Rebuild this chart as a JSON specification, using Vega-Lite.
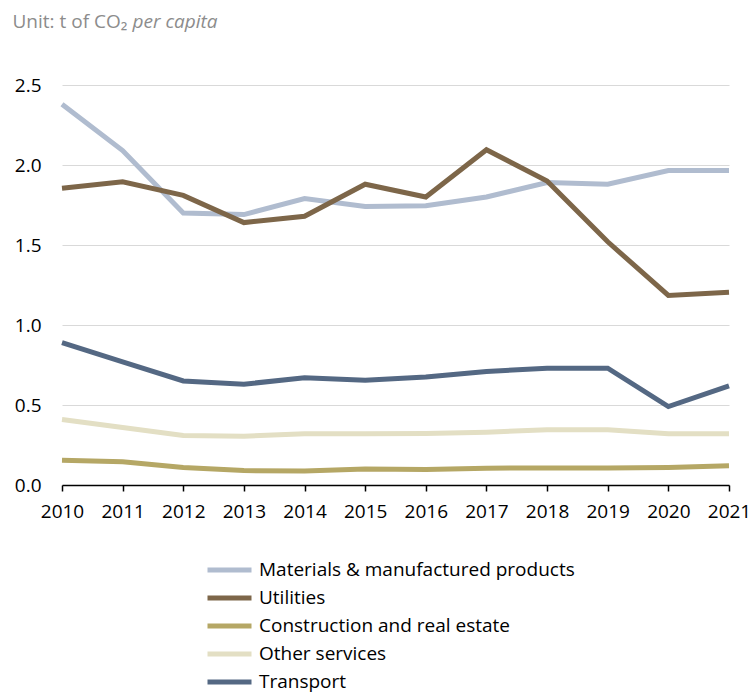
{
  "$schema": "https://vega.github.io/schema/vega-lite/v6.json",
  "width": 667,
  "height": 400,
  "autosize": {"type": "none"},
  "padding": {"left": 62, "top": 85, "right": 24, "bottom": 213},
  "background": "white",
  "config": {
    "view": {"stroke": null},
    "font": "Open Sans"
  },
  "data": {
    "values": [
      {"year": "2010", "sector": "Materials & manufactured products", "value": 2.38},
      {"year": "2011", "sector": "Materials & manufactured products", "value": 2.09},
      {"year": "2012", "sector": "Materials & manufactured products", "value": 1.70},
      {"year": "2013", "sector": "Materials & manufactured products", "value": 1.69},
      {"year": "2014", "sector": "Materials & manufactured products", "value": 1.79},
      {"year": "2015", "sector": "Materials & manufactured products", "value": 1.74},
      {"year": "2016", "sector": "Materials & manufactured products", "value": 1.745},
      {"year": "2017", "sector": "Materials & manufactured products", "value": 1.80},
      {"year": "2018", "sector": "Materials & manufactured products", "value": 1.89},
      {"year": "2019", "sector": "Materials & manufactured products", "value": 1.88},
      {"year": "2020", "sector": "Materials & manufactured products", "value": 1.965},
      {"year": "2021", "sector": "Materials & manufactured products", "value": 1.965},
      {"year": "2010", "sector": "Utilities", "value": 1.855},
      {"year": "2011", "sector": "Utilities", "value": 1.895},
      {"year": "2012", "sector": "Utilities", "value": 1.81},
      {"year": "2013", "sector": "Utilities", "value": 1.64},
      {"year": "2014", "sector": "Utilities", "value": 1.68},
      {"year": "2015", "sector": "Utilities", "value": 1.88},
      {"year": "2016", "sector": "Utilities", "value": 1.80},
      {"year": "2017", "sector": "Utilities", "value": 2.095},
      {"year": "2018", "sector": "Utilities", "value": 1.90},
      {"year": "2019", "sector": "Utilities", "value": 1.52},
      {"year": "2020", "sector": "Utilities", "value": 1.185},
      {"year": "2021", "sector": "Utilities", "value": 1.205},
      {"year": "2010", "sector": "Construction and real estate", "value": 0.155},
      {"year": "2011", "sector": "Construction and real estate", "value": 0.145},
      {"year": "2012", "sector": "Construction and real estate", "value": 0.11},
      {"year": "2013", "sector": "Construction and real estate", "value": 0.09},
      {"year": "2014", "sector": "Construction and real estate", "value": 0.087},
      {"year": "2015", "sector": "Construction and real estate", "value": 0.10},
      {"year": "2016", "sector": "Construction and real estate", "value": 0.097},
      {"year": "2017", "sector": "Construction and real estate", "value": 0.105},
      {"year": "2018", "sector": "Construction and real estate", "value": 0.107},
      {"year": "2019", "sector": "Construction and real estate", "value": 0.107},
      {"year": "2020", "sector": "Construction and real estate", "value": 0.11},
      {"year": "2021", "sector": "Construction and real estate", "value": 0.12},
      {"year": "2010", "sector": "Other services", "value": 0.41},
      {"year": "2011", "sector": "Other services", "value": 0.36},
      {"year": "2012", "sector": "Other services", "value": 0.31},
      {"year": "2013", "sector": "Other services", "value": 0.305},
      {"year": "2014", "sector": "Other services", "value": 0.32},
      {"year": "2015", "sector": "Other services", "value": 0.32},
      {"year": "2016", "sector": "Other services", "value": 0.322},
      {"year": "2017", "sector": "Other services", "value": 0.33},
      {"year": "2018", "sector": "Other services", "value": 0.345},
      {"year": "2019", "sector": "Other services", "value": 0.345},
      {"year": "2020", "sector": "Other services", "value": 0.32},
      {"year": "2021", "sector": "Other services", "value": 0.32},
      {"year": "2010", "sector": "Transport", "value": 0.89},
      {"year": "2011", "sector": "Transport", "value": 0.77},
      {"year": "2012", "sector": "Transport", "value": 0.65},
      {"year": "2013", "sector": "Transport", "value": 0.63},
      {"year": "2014", "sector": "Transport", "value": 0.67},
      {"year": "2015", "sector": "Transport", "value": 0.655},
      {"year": "2016", "sector": "Transport", "value": 0.675},
      {"year": "2017", "sector": "Transport", "value": 0.71},
      {"year": "2018", "sector": "Transport", "value": 0.73},
      {"year": "2019", "sector": "Transport", "value": 0.73},
      {"year": "2020", "sector": "Transport", "value": 0.49},
      {"year": "2021", "sector": "Transport", "value": 0.62}
    ]
  },
  "mark": {"type": "line", "strokeWidth": 5, "strokeCap": "butt", "strokeJoin": "miter"},
  "encoding": {
    "x": {
      "field": "year",
      "type": "ordinal",
      "scale": {"type": "point", "padding": 0},
      "axis": {
        "title": "Unit: t of CO₂",
        "titleAngle": 0,
        "titleAlign": "left",
        "titleBaseline": "alphabetic",
        "titleX": -50,
        "titleY": -458,
        "titleFont": "Open Sans",
        "titleFontSize": 19,
        "titleFontWeight": "normal",
        "titleColor": "#8c8c8c",
        "labelAngle": 0,
        "labelFont": "Open Sans",
        "labelFontSize": 19,
        "labelColor": "#000000",
        "labelPadding": 11,
        "domainColor": "#000000",
        "domainWidth": 1.5,
        "tickColor": "#000000",
        "tickWidth": 1.5,
        "tickSize": 6,
        "grid": false
      }
    },
    "y": {
      "field": "value",
      "type": "quantitative",
      "scale": {"domain": [0, 2.5], "nice": false},
      "axis": {
        "title": "per capita",
        "titleAngle": 0,
        "titleAlign": "left",
        "titleBaseline": "alphabetic",
        "titleX": 70,
        "titleY": -58,
        "titleFont": "Open Sans",
        "titleFontSize": 19,
        "titleFontStyle": "italic",
        "titleFontWeight": "normal",
        "titleColor": "#8c8c8c",
        "values": [0, 0.5, 1, 1.5, 2, 2.5],
        "format": ".1f",
        "labelFont": "Open Sans",
        "labelFontSize": 19,
        "labelColor": "#000000",
        "labelPadding": 21,
        "domain": false,
        "ticks": false,
        "gridColor": "#d9d9d9",
        "gridWidth": 1
      }
    },
    "color": {
      "field": "sector",
      "type": "nominal",
      "sort": ["Materials & manufactured products", "Utilities", "Construction and real estate", "Other services", "Transport"],
      "scale": {
        "domain": ["Materials & manufactured products", "Utilities", "Construction and real estate", "Other services", "Transport"],
        "range": ["#b0bccf", "#7d6649", "#b5a765", "#e3dfc4", "#546883"]
      },
      "legend": {
        "title": null,
        "orient": "none",
        "legendX": 143,
        "legendY": 474,
        "direction": "vertical",
        "symbolType": "stroke",
        "symbolStrokeWidth": 5,
        "symbolSize": 1936,
        "clipHeight": 22,
        "labelFont": "Open Sans",
        "labelFontSize": 19,
        "labelColor": "#000000",
        "labelOffset": 5,
        "rowPadding": 6,
        "labelLimit": 450
      }
    }
  }
}
